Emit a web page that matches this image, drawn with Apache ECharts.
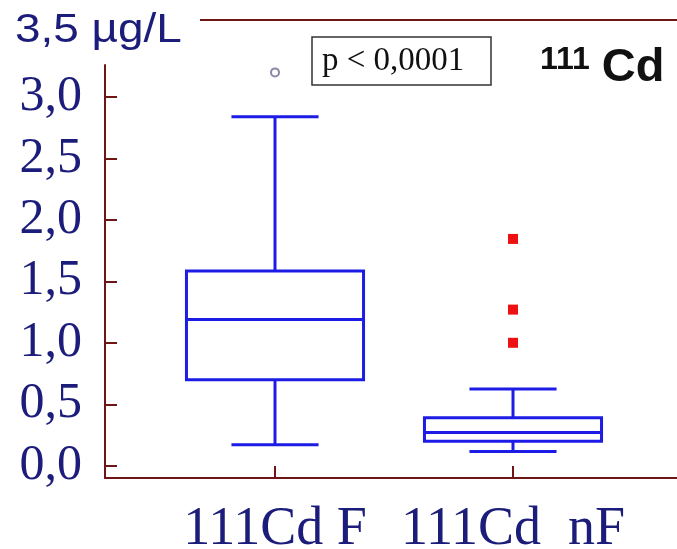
<!DOCTYPE html>
<html>
<head>
<meta charset="utf-8">
<script src="https://cdn.jsdelivr.net/npm/echarts@6/dist/echarts.min.js"></script>
<style>
  html, body { margin: 0; padding: 0; background: #fff; }
  #main { width: 677px; height: 549px; }
</style>
</head>
<body>
<div id="main"></div>
<script>
var categories = ['111Cd F', '111Cd  nF'];
// whisker low, Q1, median, Q3, whisker high (µg/L)
var boxValues = [
  [0.17, 0.70, 1.19, 1.585, 2.84],
  [0.115, 0.20, 0.27, 0.39, 0.625]
];
var circleOutliers = [[0, 3.2]];
var squareOutliers = [[1, 1.845], [1, 1.27], [1, 1.0]];
var yTicks = [0, 0.5, 1, 1.5, 2, 2.5, 3];

var frameColor = '#6e1616';
var labelColor = '#1c1c7a';
var boxColor = '#1c1ce6';

var chartDom = document.getElementById('main');
var myChart = echarts.init(chartDom);

function renderBox(params, api) {
  var idx = api.value(0);
  var lo = api.coord([idx, api.value(1)]);
  var q1 = api.coord([idx, api.value(2)]);
  var med = api.coord([idx, api.value(3)]);
  var q3 = api.coord([idx, api.value(4)]);
  var hi = api.coord([idx, api.value(5)]);
  var band = api.size([1, 0])[0];
  var hw = band * 0.372;
  var cw = band * 0.183;
  var x = lo[0];
  var st = { stroke: boxColor, lineWidth: 3, fill: 'none' };
  return {
    type: 'group',
    children: [
      { type: 'rect', shape: { x: x - hw, y: q3[1], width: hw * 2, height: q1[1] - q3[1] }, style: st },
      { type: 'line', shape: { x1: x - hw, y1: med[1], x2: x + hw, y2: med[1] }, style: st },
      { type: 'line', shape: { x1: x, y1: q3[1], x2: x, y2: hi[1] }, style: st },
      { type: 'line', shape: { x1: x, y1: q1[1], x2: x, y2: lo[1] }, style: st },
      { type: 'line', shape: { x1: x - cw, y1: hi[1], x2: x + cw, y2: hi[1] }, style: st },
      { type: 'line', shape: { x1: x - cw, y1: lo[1], x2: x + cw, y2: lo[1] }, style: st }
    ]
  };
}

var option = {
  animation: false,
  title: [
    {
      text: 'p < 0,0001',
      left: 312,
      top: 38,
      borderColor: '#333',
      borderWidth: 1.5,
      padding: [8, 27, 8, 10],
      textStyle: {
        fontFamily: 'Liberation Serif',
        fontSize: 33,
        fontWeight: 'normal',
        color: '#111',
        lineHeight: 30
      }
    },
    {
      text: '{s|111}{b|Cd}',
      left: 535,
      top: 39,
      textStyle: {
        rich: {
          s: { fontFamily: 'Liberation Sans', fontSize: 32, fontWeight: 'bold', color: '#111', padding: [0, 12, 16, 0] },
          b: { fontFamily: 'Liberation Sans', fontSize: 47, fontWeight: 'bold', color: '#111' }
        }
      }
    }
  ],
  graphic: [
    {
      type: 'line',
      shape: { x1: 200, y1: 20, x2: 677, y2: 20 },
      style: { stroke: frameColor, lineWidth: 2 }
    },
    {
      type: 'text',
      left: 15,
      top: 10,
      scaleX: 1.12,
      style: { text: '3,5 µg/L', font: '41px "Liberation Sans"', fill: labelColor }
    }
  ],
  grid: [
    { left: 156, right: 45, top: 65, bottom: 71, outerBoundsMode: 'none', containLabel: false },
    { left: 105, right: 0, top: 65, bottom: 71, outerBoundsMode: 'none', containLabel: false }
  ],
  xAxis: [
    {
      type: 'category',
      gridIndex: 0,
      data: categories,
      axisLine: { show: false, onZero: false },
      axisTick: { show: true, inside: true, alignWithLabel: true, length: 12, lineStyle: { color: frameColor, width: 2 } },
      axisLabel: { interval: 0, hideOverlap: false, fontFamily: 'Liberation Serif', fontSize: 54, color: labelColor, margin: 25 }
    },
    {
      type: 'value',
      gridIndex: 1,
      min: 0,
      max: 1,
      axisLine: { show: true, lineStyle: { color: frameColor, width: 2 } },
      axisTick: { show: false },
      axisLabel: { show: false },
      splitLine: { show: false }
    }
  ],
  yAxis: [
    {
      type: 'value',
      gridIndex: 0,
      min: -0.1,
      max: 3.26,
      offset: 51,
      axisLine: { show: true, lineStyle: { color: frameColor, width: 2 } },
      axisTick: { show: true, inside: true, length: 12, customValues: yTicks, lineStyle: { color: frameColor, width: 2 } },
      axisLabel: {
        customValues: yTicks,
        margin: 23,
        fontFamily: 'Liberation Serif',
        fontSize: 50,
        color: labelColor,
        formatter: function (v) { return v.toFixed(1).replace('.', ','); }
      },
      splitLine: { show: false }
    },
    { type: 'value', gridIndex: 1, show: false }
  ],
  series: [
    {
      type: 'custom',
      xAxisIndex: 0,
      yAxisIndex: 0,
      renderItem: renderBox,
      data: boxValues.map(function (v, i) { return [i].concat(v); })
    },
    {
      type: 'scatter',
      xAxisIndex: 0,
      yAxisIndex: 0,
      symbol: 'emptyCircle',
      symbolSize: 8,
      itemStyle: { color: '#8a8aa8', borderWidth: 1.5, opacity: 1 },
      data: circleOutliers
    },
    {
      type: 'scatter',
      xAxisIndex: 0,
      yAxisIndex: 0,
      symbol: 'rect',
      symbolSize: 10,
      itemStyle: { color: '#ee1111', opacity: 1 },
      data: squareOutliers
    }
  ]
};

option && myChart.setOption(option);
</script>
</body>
</html>
